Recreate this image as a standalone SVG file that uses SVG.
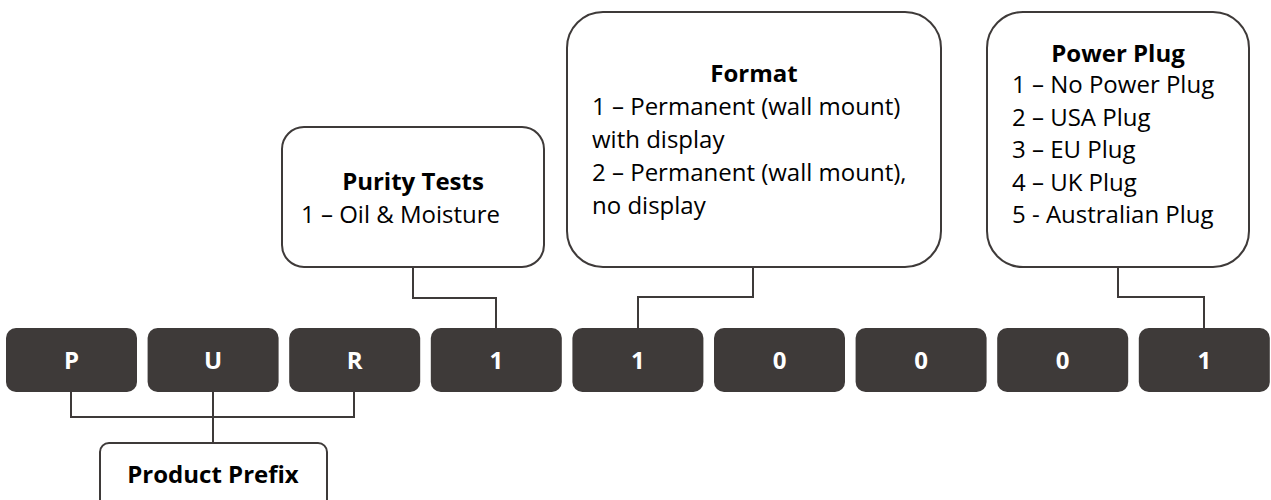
<svg xmlns="http://www.w3.org/2000/svg" width="1271" height="500" viewBox="0 0 1271 500">
<style>
.cell{fill:#3e3a39;}
.ct{font-family:"Open Sans",sans-serif;font-weight:700;font-size:24px;fill:#ffffff;text-anchor:middle;}
.box{fill:#ffffff;stroke:#3e3a39;stroke-width:2;}
.ttl{font-family:"Open Sans",sans-serif;font-weight:700;font-size:24px;fill:#000;text-anchor:middle;}
.txt{font-family:"Open Sans",sans-serif;font-size:24px;fill:#000;}
.con{fill:none;stroke:#3e3a39;stroke-width:2;}
</style>
<rect width="1271" height="500" fill="#ffffff"/>
<g id="connectors">
<polyline class="con" points="71,392 71,417 354,417 354,392"/>
<line class="con" x1="213" y1="392" x2="213" y2="443"/>
<polyline class="con" points="413,267 413,298 496,298 496,328"/>
<polyline class="con" points="753,267 753,297 638,297 638,328"/>
<polyline class="con" points="1118,267 1118,297 1204,297 1204,328"/>
</g>
<g id="cell-P"><rect class="cell" x="6" y="328" width="131" height="64" rx="10"/><text class="ct" x="71.5" y="369">P</text></g>
<g id="cell-U"><rect class="cell" x="147.6" y="328" width="131" height="64" rx="10"/><text class="ct" x="213.1" y="369">U</text></g>
<g id="cell-R"><rect class="cell" x="289.2" y="328" width="131" height="64" rx="10"/><text class="ct" x="354.7" y="369">R</text></g>
<g id="cell-4"><rect class="cell" x="430.8" y="328" width="131" height="64" rx="10"/><text class="ct" x="496.3" y="369">1</text></g>
<g id="cell-5"><rect class="cell" x="572.4" y="328" width="131" height="64" rx="10"/><text class="ct" x="637.9" y="369">1</text></g>
<g id="cell-6"><rect class="cell" x="714" y="328" width="131" height="64" rx="10"/><text class="ct" x="779.5" y="369">0</text></g>
<g id="cell-7"><rect class="cell" x="855.6" y="328" width="131" height="64" rx="10"/><text class="ct" x="921.1" y="369">0</text></g>
<g id="cell-8"><rect class="cell" x="997.2" y="328" width="131" height="64" rx="10"/><text class="ct" x="1062.7" y="369">0</text></g>
<g id="cell-9"><rect class="cell" x="1138.8" y="328" width="131" height="64" rx="10"/><text class="ct" x="1204.3" y="369">1</text></g>
<g id="product-prefix"><rect class="box" x="100" y="443" width="227" height="70" rx="9"/><text class="ttl" x="213" y="483">Product Prefix</text></g>
<g id="purity-tests"><rect class="box" x="282" y="127" width="262" height="140" rx="22"/><text class="ttl" x="413" y="190">Purity Tests</text><text class="txt" x="301" y="223">1 – Oil &amp; Moisture</text></g>
<g id="format"><rect class="box" x="567" y="12" width="374" height="255" rx="36"/><text class="ttl" x="754" y="82">Format</text>
<text class="txt" x="592" y="115">1 – Permanent (wall mount)</text>
<text class="txt" x="592" y="148">with display</text>
<text class="txt" x="592" y="181">2 – Permanent (wall mount),</text>
<text class="txt" x="592" y="214">no display</text></g>
<g id="power-plug"><rect class="box" x="987" y="12" width="262" height="255" rx="36"/><text class="ttl" x="1118" y="62">Power Plug</text>
<text class="txt" x="1012" y="93">1 – No Power Plug</text>
<text class="txt" x="1012" y="126">2 – USA Plug</text>
<text class="txt" x="1012" y="158">3 – EU Plug</text>
<text class="txt" x="1012" y="191">4 – UK Plug</text>
<text class="txt" x="1012" y="223">5 - Australian Plug</text></g>
</svg>
